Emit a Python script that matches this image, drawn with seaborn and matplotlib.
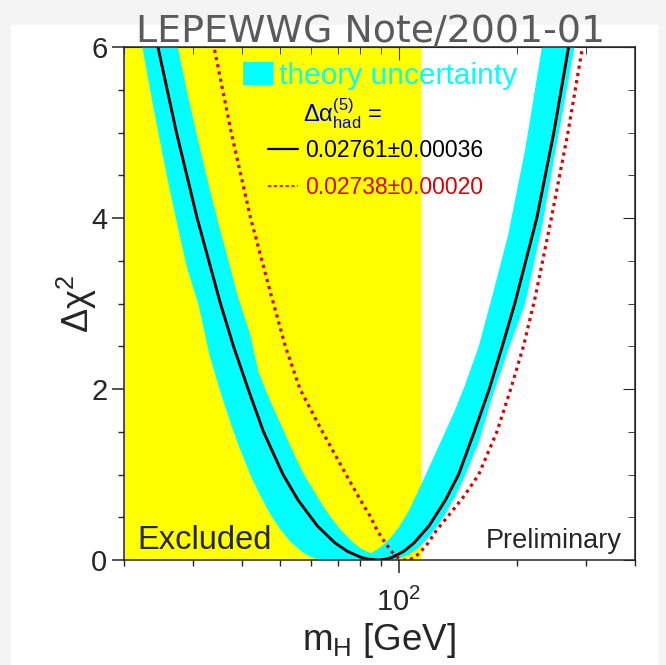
import matplotlib
matplotlib.use("Agg")
import matplotlib.pyplot as plt
import seaborn as sns
from matplotlib.lines import Line2D
from matplotlib.patches import Patch, Rectangle
from matplotlib.ticker import FixedFormatter, FixedLocator, MultipleLocator, NullFormatter

# values: Higgs mass [GeV] vs delta chi^2
black_m = [22.1, 24.4, 27.2, 30.7, 35.2, 38.0, 41.4, 45.3, 50.8, 55.5, 62.1, 68.9, 74.2,
           80.4, 83.8, 88.7, 92.9, 96.2, 103, 109.5, 119.6, 131.6, 142.2, 155.9, 170.2,
           183.7, 197.7, 224.9, 248.5, 271, 296.4]
black_d = [7, 6, 5, 4, 3, 2.5, 2, 1.5, 1, 0.7, 0.4, 0.2, 0.1,
           0.03, 0.01, 0, 0.01, 0.03, 0.1, 0.2, 0.4, 0.7, 1, 1.5, 2,
           2.5, 3, 4, 5, 6, 7]

red_m = [31.3, 33.9, 37.5, 42, 47.5, 51.5, 56.1, 64, 73.5, 80, 85, 88.1, 92.5, 96, 99.5,
         103, 106, 110, 114, 119, 125, 133, 147, 160, 178, 193, 208, 223, 245, 270, 294, 318]
red_d = [7, 6, 5, 4, 3.08, 2.5, 2, 1.5, 1, 0.7, 0.5, 0.35, 0.2, 0.1, 0.03,
         0, 0, 0.03, 0.1, 0.2, 0.35, 0.5, 0.75, 1, 1.5, 2, 2.5, 3.08, 4, 5, 6, 7]

# theory uncertainty band (lower / upper edge)
band_m = [20, 21, 22.2, 23.5, 25, 26.2, 27.4, 29, 30.9, 33, 35.1, 37, 39, 41.9, 44, 46,
          48, 50, 53, 57.1, 60, 62.5, 65, 68, 72, 76, 80, 85, 90, 95, 100, 106, 112, 120,
          130, 140, 147.7, 160, 173, 190, 210, 231.8, 250, 278, 300, 320]
band_lo = [7.26, 6.67, 6.03, 5.41, 4.77, 4.31, 3.9, 3.4, 3.0, 2.4, 1.98, 1.66, 1.36, 1.0,
           0.795, 0.624, 0.48, 0.36, 0.217, 0.088, 0.033, 0.008, 0, 0, 0, 0, 0, 0, 0, 0,
           0.013, 0.061, 0.137, 0.277, 0.498, 0.761, 0.987, 1.376, 1.9, 2.45, 3.0, 3.9,
           4.74, 5.9, 6.7, 7.47]
band_hi = [9.35, 8.78, 8.15, 7.53, 6.89, 6.42, 6.0, 5.46, 4.9, 4.35, 3.87, 3.48, 3.08, 2.64,
           2.2, 1.98, 1.78, 1.6, 1.34, 1.02, 0.86, 0.72, 0.6, 0.47, 0.33, 0.22, 0.137, 0.08,
           0.15, 0.25, 0.38, 0.57, 0.8, 1.1, 1.45, 1.78, 2.05, 2.5, 3.08, 3.8, 4.8, 6.0,
           6.9, 8.2, 9.2, 10.0]

excluded_limit = 114.1
legend_labels = ["0.02761\u00b10.00036", "0.02738\u00b10.00020"]

sns.set_style("ticks")
plt.rcParams["font.family"] = ["Liberation Sans", "DejaVu Sans"]
plt.rcParams["mathtext.fontset"] = "custom"
plt.rcParams["mathtext.rm"] = "Liberation Sans"
plt.rcParams["mathtext.it"] = "Liberation Sans:italic"
plt.rcParams["mathtext.bf"] = "Liberation Sans:bold"

W, H = 666, 665
fig = plt.figure(figsize=(W / 100, H / 100), dpi=100, facecolor="#f4f4f4")
fig.patches.append(Rectangle((11 / W, 0), (657 - 11) / W, 1 - 25 / H,
                             transform=fig.transFigure, color="white", zorder=-10))
ax = fig.add_axes([124 / W, 1 - 560 / H, (635 - 124) / W, (560 - 47) / H])
ax.set_facecolor("white")

ax.axvspan(20, excluded_limit, color="#ffff00", lw=0, zorder=0)
ax.fill_between(band_m, band_lo, band_hi, color="#00ffff", lw=0, zorder=1)
sns.lineplot(x=black_m, y=black_d, color="black", lw=2.1, sort=False, ax=ax, zorder=3)
sns.lineplot(x=red_m, y=red_d, color="#dd0000", lw=2.3, linestyle=(0, (1, 1.3)),
             sort=False, ax=ax, zorder=3)

ax.set_xscale("log")
ax.set_xlim(20, 400)
ax.set_ylim(0, 6)
ax.xaxis.set_major_locator(FixedLocator([100]))
ax.xaxis.set_major_formatter(FixedFormatter([r"$\mathregular{10^2}$"]))
ax.xaxis.set_minor_locator(FixedLocator([20, 30, 40, 50, 60, 70, 80, 90, 200, 300, 400]))
ax.xaxis.set_minor_formatter(NullFormatter())
ax.yaxis.set_major_locator(FixedLocator([0, 2, 4, 6]))
ax.yaxis.set_minor_locator(MultipleLocator(0.5))

for s in ax.spines.values():
    s.set_linewidth(1.1)
    s.set_zorder(5)
ax.tick_params(which="major", direction="out", length=9, width=1.1, labelsize=21, pad=3)
ax.tick_params(axis="x", which="major", pad=11)
ax.tick_params(which="minor", direction="out", length=4.5, width=1.0)

secx = ax.secondary_xaxis("top")
secx.xaxis.set_major_locator(FixedLocator([100]))
secx.xaxis.set_minor_locator(FixedLocator([20, 30, 40, 50, 60, 70, 80, 90, 200, 300, 400]))
secx.tick_params(which="both", direction="in", labeltop=False)
secx.tick_params(which="major", length=9)
secx.tick_params(which="minor", length=5)
secy = ax.secondary_yaxis("right")
secy.yaxis.set_major_locator(FixedLocator([0, 2, 4, 6]))
secy.yaxis.set_minor_locator(MultipleLocator(0.5))
secy.tick_params(which="both", direction="in", labelright=False)
secy.tick_params(which="major", length=9)
secy.tick_params(which="minor", length=5)

ax.set_xlabel(r"$\mathregular{m_H}$ [GeV]", fontsize=26.5, labelpad=3)
ax.set_ylabel(r"$\mathregular{\Delta\chi^2}$", fontsize=26, labelpad=-6)

leg1 = ax.legend(handles=[Patch(facecolor="#00ffff", edgecolor="none")],
                 labels=["theory uncertainty"], loc="upper left",
                 bbox_to_anchor=((243 - 124) / 511, (560 - 62) / 513),
                 frameon=False, fontsize=21.5, handlelength=1.0, handleheight=0.8,
                 handletextpad=0.2, borderpad=0, borderaxespad=0, labelcolor="#00ffff")
ax.add_artist(leg1)

ax.text((303 - 124) / 511, (560 - 114) / 513, r"$\mathregular{\Delta\alpha^{(5)}_{had}}$ =",
        color="#0000cc", fontsize=17, va="center", transform=ax.transAxes, zorder=6)

ax.legend(handles=[Line2D([], [], color="black", lw=1.6),
                   Line2D([], [], color="#dd0000", lw=1.2, ls=(0, (2, 1.5)))],
          labels=legend_labels, labelcolor=["black", "#dd0000"], loc="upper left",
          bbox_to_anchor=((268 - 124) / 511, (560 - 139) / 513), frameon=False,
          fontsize=16.5, handlelength=1.3, handletextpad=0.3, labelspacing=0.6,
          borderpad=0, borderaxespad=0)

ax.text((137 - 124) / 511, (560 - 549) / 513, "Excluded", fontsize=23.5,
        va="baseline", transform=ax.transAxes, zorder=6)
ax.text((622 - 124) / 511, (560 - 548) / 513, "Preliminary", fontsize=19.5,
        ha="right", va="baseline", transform=ax.transAxes, zorder=6)

fig.text(371 / W, 1 - 42 / H, "LEPEWWG Note/2001-01", ha="center", va="baseline",
         color="#5a5a5a", fontsize=27.3, family="DejaVu Sans")

fig.savefig("out.png", dpi=100, facecolor=fig.get_facecolor())
